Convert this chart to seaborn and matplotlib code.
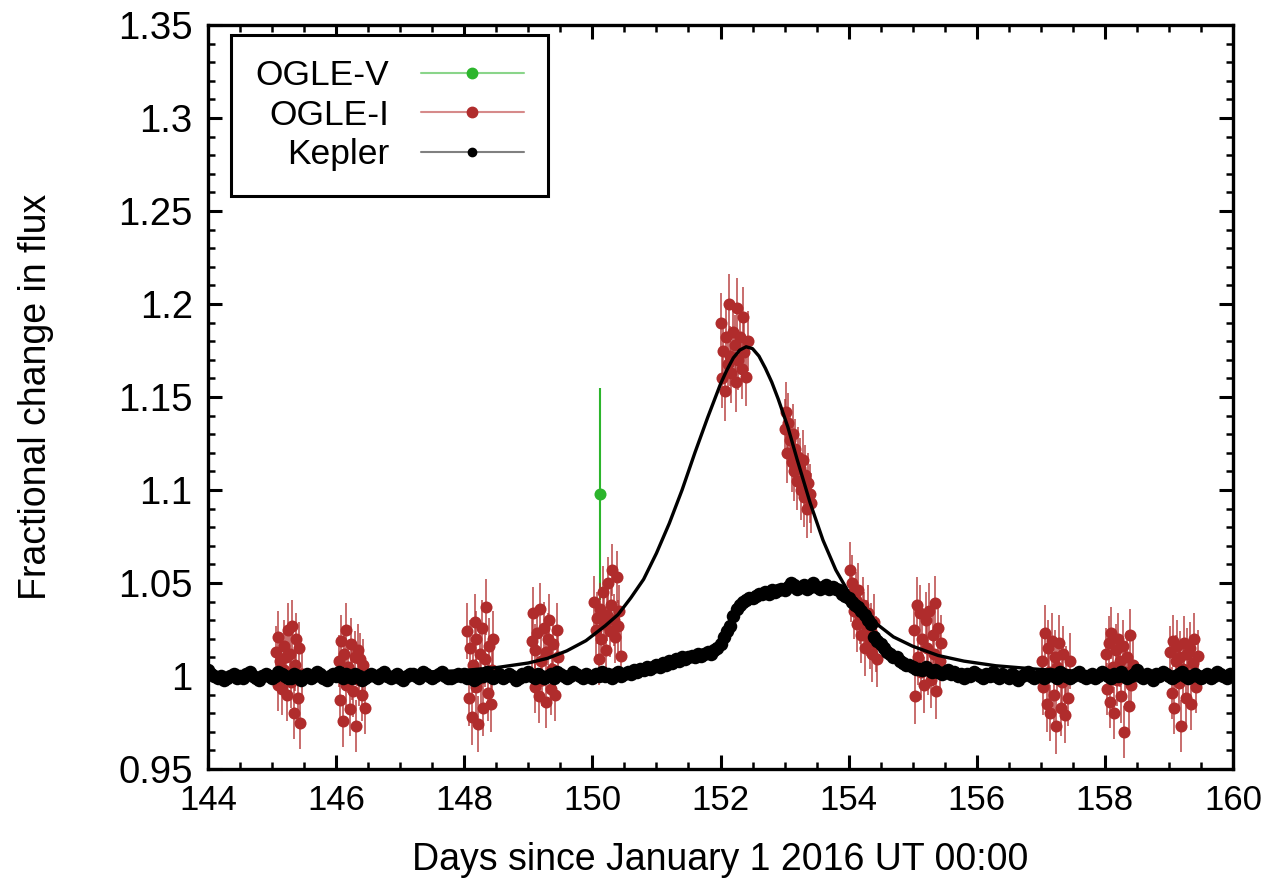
import numpy as np
import pandas as pd
import matplotlib
matplotlib.use("Agg")
import matplotlib.pyplot as plt
from matplotlib.ticker import MultipleLocator, FuncFormatter
from matplotlib.lines import Line2D
import seaborn as sns

# ---------------- data ----------------
# Kepler: regular long-cadence samples (every 0.05 d from 144.0), flux deviation in parts per thousand
kepler_start = 144.0
kepler_step = 0.05
kepler_dev_ppt = [
    3, 1, 0, -1, 0, -2, -1, 0, 1, -1,
    0, -1, 1, 2, 0, -1, -2, 0, 1, 0,
    -1, 0, 2, 1, 0, -1, -1, 1, 0, -2,
    0, 1, -1, 0, 2, 1, -1, -2, 0, 1,
    0, 2, -1, 1, 0, -1, 1, 0, -2, -1,
    0, 1, 0, -1, 1, 2, 0, -1, 0, 1,
    -1, -2, 0, 1, 1, 0, -1, 2, 1, 0,
    -1, 0, 1, 2, 0, -1, -1, 0, 1, 0,
    1, -1, 0, -2, -1, 1, 0, 2, 0, -1,
    0, 1, -1, 0, 1, 0, -2, -1, 1, 0,
    2, 0, -1, 1, 0, -1, 0, 1, -1, 2,
    1, 0, -1, 0, 2, 1, 0, -1, 1, 0,
    -1, 1, 0, 2, 0, 1, -1, 1, 2, 0,
    1, 2, 1, 3, 2, 4, 3, 5, 4, 5,
    6, 5, 7, 6, 8, 7, 9, 8, 10, 9,
    10, 11, 10, 12, 11, 12, 13, 12,
    14, 15, 17, 21, 24, 27, 32, 36, 38, 40, 41, 42,
    42, 43, 44, 44, 45, 44, 46, 45, 46, 47, 46, 48, 50,
    49, 47, 48, 49, 47, 48, 50, 48, 47, 48, 49, 47, 48, 47,
    46, 44, 43, 42, 40, 38, 37, 35, 33, 30, 28,
    21, 19, 17, 15, 13, 12, 10, 10, 8, 7, 6, 6, 5, 4, 4, 3, 5, 3, 2, 3,
    2, 1, 2, 3, 1, 2, 0, 1, -1, 1, 0, 2, 1,
    0, -1, 1, 0, 2, 0, -1, 1, 0, -1,
    1, 0, -2, 0, 1, 2, 0, -1, 0, 1,
    -1, 0, 1, 0, -1, 2, 1, 0, -1, 0,
    1, 2, 0, -1, 0, 1, -1, 0, 2, 1,
    0, -1, 1, 0, 2, 0, -1, 0, 1, 3,
    0, -1, 1, 0, -2, 1, 0, 2, 1, 0,
    -1, 0, 1, 2, 0, -1, 0, 1, 0, -1,
    0, 1, -1, 0, 2, 1, 0, -1, 1, 0,
]

# OGLE-I photometry (12 nightly clusters of 20 points)
ogle_i_t = [
    145.06, 145.09, 145.10, 145.13, 145.15, 145.18, 145.19, 145.22, 145.24, 145.25, 145.28, 145.30, 145.31, 145.34, 145.36, 145.37, 145.40, 145.42, 145.43, 145.46,
    146.04, 146.06, 146.08, 146.10, 146.13, 146.15, 146.16, 146.19, 146.21, 146.23, 146.25, 146.27, 146.30, 146.31, 146.34, 146.36, 146.38, 146.40, 146.42, 146.45,
    148.05, 148.07, 148.09, 148.12, 148.13, 148.16, 148.18, 148.19, 148.22, 148.24, 148.26, 148.28, 148.30, 148.33, 148.34, 148.37, 148.39, 148.41, 148.43, 148.45,
    149.05, 149.07, 149.10, 149.11, 149.14, 149.16, 149.18, 149.20, 149.22, 149.25, 149.27, 149.28, 149.31, 149.33, 149.35, 149.37, 149.39, 149.42, 149.44, 149.46,
    150.03, 150.05, 150.07, 150.10, 150.12, 150.14, 150.16, 150.18, 150.21, 150.23, 150.25, 150.27, 150.29, 150.31, 150.34, 150.36, 150.38, 150.40, 150.42, 150.45,
    152.00, 152.02, 152.04, 152.07, 152.09, 152.11, 152.13, 152.15, 152.17, 152.20, 152.22, 152.24, 152.26, 152.28, 152.31, 152.33, 152.35, 152.37, 152.40, 152.43,
    153.00, 153.02, 153.04, 153.06, 153.08, 153.11, 153.13, 153.15, 153.17, 153.19, 153.21, 153.24, 153.26, 153.28, 153.30, 153.32, 153.35, 153.37, 153.39, 153.42,
    154.02, 154.04, 154.06, 154.08, 154.11, 154.13, 154.15, 154.17, 154.19, 154.22, 154.24, 154.26, 154.28, 154.30, 154.33, 154.35, 154.37, 154.39, 154.42, 154.45,
    155.02, 155.04, 155.06, 155.09, 155.11, 155.13, 155.15, 155.17, 155.20, 155.22, 155.24, 155.26, 155.28, 155.31, 155.33, 155.35, 155.37, 155.40, 155.42, 155.44,
    157.02, 157.04, 157.06, 157.09, 157.11, 157.13, 157.15, 157.18, 157.20, 157.22, 157.24, 157.26, 157.29, 157.31, 157.33, 157.35, 157.38, 157.40, 157.42, 157.45,
    158.01, 158.03, 158.06, 158.08, 158.10, 158.12, 158.14, 158.17, 158.19, 158.21, 158.23, 158.25, 158.28, 158.30, 158.32, 158.34, 158.37, 158.39, 158.41, 158.44,
    159.02, 159.04, 159.06, 159.08, 159.11, 159.13, 159.15, 159.17, 159.19, 159.22, 159.24, 159.26, 159.28, 159.30, 159.33, 159.35, 159.37, 159.39, 159.42, 159.45,
]
ogle_i_f = [
    1.013, 0.995, 1.021, 1.008, 0.993, 1.016, 1.003, 1.010, 0.990, 1.025, 1.012, 0.997, 1.027, 0.980, 1.006, 1.020, 0.988, 1.015, 0.975, 1.001,
    1.008, 0.987, 1.019, 0.976, 1.012, 1.025, 0.995, 1.005, 0.982, 1.017, 1.001, 0.992, 1.010, 0.973, 1.014, 0.998, 1.009, 0.990, 1.006, 0.983,
    1.024, 0.988, 1.015, 0.978, 1.006, 1.029, 0.994, 1.020, 0.974, 1.012, 0.999, 1.026, 0.983, 1.009, 1.037, 0.991, 1.016, 0.985, 1.003, 1.020,
    1.019, 1.034, 0.994, 1.014, 1.023, 0.989, 1.036, 1.008, 0.998, 1.026, 1.013, 0.986, 1.020, 1.030, 0.993, 1.004, 1.017, 0.990, 1.025, 1.010,
    1.040, 1.025, 1.031, 1.009, 1.036, 1.020, 1.045, 1.028, 1.014, 1.033, 1.050, 1.024, 1.038, 1.057, 1.030, 1.021, 1.053, 1.027, 1.035, 1.011,
    1.190, 1.160, 1.175, 1.153, 1.182, 1.168, 1.200, 1.172, 1.163, 1.185, 1.178, 1.158, 1.198, 1.170, 1.182, 1.165, 1.193, 1.174, 1.161, 1.180,
    1.133, 1.142, 1.120, 1.136, 1.127, 1.115, 1.130, 1.110, 1.122, 1.105, 1.118, 1.112, 1.100, 1.116, 1.096, 1.108, 1.090, 1.104, 1.098, 1.093,
    1.057, 1.044, 1.050, 1.035, 1.041, 1.028, 1.046, 1.032, 1.022, 1.038, 1.030, 1.015, 1.026, 1.034, 1.019, 1.024, 1.012, 1.029, 1.017, 1.009,
    1.025, 0.989, 1.038, 1.010, 1.034, 1.002, 1.020, 0.995, 1.030, 1.015, 1.005, 1.035, 0.998, 1.022, 1.012, 1.039, 0.992, 1.026, 1.008, 1.018,
    1.008, 0.994, 1.023, 0.985, 1.015, 1.002, 0.980, 1.019, 0.990, 1.010, 0.973, 1.005, 1.018, 0.983, 0.997, 1.012, 0.979, 1.001, 0.988, 1.008,
    1.012, 0.993, 1.018, 0.986, 1.023, 1.005, 0.980, 1.014, 0.998, 1.020, 1.008, 0.989, 1.016, 0.970, 1.002, 1.010, 0.984, 1.022, 0.995, 1.006,
    1.013, 0.991, 1.019, 0.983, 1.008, 1.016, 0.996, 1.010, 0.973, 1.004, 1.018, 0.988, 1.012, 0.999, 1.015, 0.985, 1.007, 1.020, 0.994, 1.011,
]
ogle_i_cluster_err = [0.014, 0.014, 0.015, 0.014, 0.014, 0.016, 0.016, 0.015, 0.015, 0.015, 0.014, 0.014]

# OGLE-V single point
ogle_v_t = [150.12]
ogle_v_f = [1.098]
ogle_v_err = [0.057]

# Microlensing model curve
model_t = [144.0, 145.0, 146.0, 147.0, 147.5, 148.0, 148.5, 149.0, 149.3, 149.6, 149.9,
           150.2, 150.4, 150.6, 150.8, 151.0, 151.2, 151.4, 151.6, 151.8, 151.9, 152.0,
           152.1, 152.2, 152.3, 152.4, 152.5, 152.6, 152.7, 152.8, 152.9, 153.05, 153.2,
           153.4, 153.6, 153.8, 154.0, 154.2, 154.4, 154.7, 155.0, 155.4, 155.8, 156.3,
           157.0, 158.0, 159.0, 160.0]
model_f = [1.0005, 1.0007, 1.0010, 1.0016, 1.0022, 1.0030, 1.0045, 1.0070, 1.0095, 1.0135, 1.0190,
           1.0270, 1.0330, 1.0420, 1.0520, 1.0660, 1.0820, 1.1000, 1.1200, 1.1390, 1.1480, 1.1570,
           1.1645, 1.1710, 1.1752, 1.1770, 1.1760, 1.1720, 1.1655, 1.1580, 1.1490, 1.1340, 1.1160,
           1.0930, 1.0730, 1.0570, 1.0450, 1.0360, 1.0290, 1.0210, 1.0160, 1.0110, 1.0080, 1.0055,
           1.0035, 1.0020, 1.0013, 1.0010]

x_ticks = [144, 146, 148, 150, 152, 154, 156, 158, 160]

# ---------------- frames ----------------
kep = pd.DataFrame({"t": kepler_start + kepler_step * np.arange(len(kepler_dev_ppt)),
                    "f": 1.0 + np.array(kepler_dev_ppt) / 1000.0})
ogi = pd.DataFrame({"t": ogle_i_t, "f": ogle_i_f,
                    "e": np.repeat(ogle_i_cluster_err, len(ogle_i_t) // len(ogle_i_cluster_err))})
ogv = pd.DataFrame({"t": ogle_v_t, "f": ogle_v_f, "e": ogle_v_err})
mod = pd.DataFrame({"t": model_t, "f": model_f})

# ---------------- style ----------------
sns.set_theme(style="ticks")
plt.rcParams['font.family'] = ['Liberation Sans', 'DejaVu Sans']
plt.rcParams['text.color'] = 'black'
plt.rcParams['axes.labelcolor'] = 'black'
plt.rcParams['xtick.color'] = 'black'
plt.rcParams['ytick.color'] = 'black'
RED = '#b02c2c'
GREEN = '#2cb52c'

fig = plt.figure(figsize=(12.75, 8.85), dpi=100)
ax = fig.add_axes([208 / 1275, 1 - 769 / 885, 1025 / 1275, 744 / 885])

# OGLE-V
ax.errorbar(ogv["t"], ogv["f"], yerr=ogv["e"], fmt='none', ecolor=GREEN, elinewidth=1.5, capsize=0, zorder=2)
sns.scatterplot(data=ogv, x="t", y="f", color=GREEN, s=75, linewidth=0, ax=ax, zorder=2, legend=False)

# OGLE-I
ax.errorbar(ogi["t"], ogi["f"], yerr=ogi["e"], fmt='none', ecolor=RED, alpha=0.75, elinewidth=1.3, capsize=0, zorder=3)
sns.scatterplot(data=ogi, x="t", y="f", color=RED, s=75, linewidth=0, ax=ax, zorder=3, legend=False)

# Kepler
sns.scatterplot(data=kep, x="t", y="f", color='black', s=95, linewidth=0, ax=ax, zorder=4, legend=False)

# model
sns.lineplot(data=mod, x="t", y="f", color='black', linewidth=2.4, ax=ax, zorder=5,
             estimator=None, sort=False, legend=False)

ax.set_xlim(144, 160)
ax.set_ylim(0.95, 1.35)
ax.set_xticks(x_ticks)
ax.xaxis.set_minor_locator(MultipleLocator(0.5))
ax.yaxis.set_major_locator(MultipleLocator(0.05))
ax.yaxis.set_minor_locator(MultipleLocator(0.01))
ax.yaxis.set_major_formatter(FuncFormatter(lambda v, p: f"{v:g}"))
ax.xaxis.set_major_formatter(FuncFormatter(lambda v, p: f"{v:g}"))

ax.tick_params(which='both', direction='in', top=True, right=True, colors='black')
ax.tick_params(which='major', length=10, width=2.2)
ax.tick_params(which='minor', length=5, width=1.8)
ax.tick_params(axis='x', which='major', labelsize=25, pad=11)
ax.tick_params(axis='y', which='major', labelsize=27.5, pad=11)
for s in ax.spines.values():
    s.set_linewidth(2.4)
    s.set_color('black')

ax.set_xlabel("Days since January 1 2016 UT 00:00", fontsize=27, labelpad=18)
ax.set_ylabel("Fractional change in flux", fontsize=27, labelpad=46)

handles = [
    Line2D([], [], color='#8ad58a', lw=1.5, marker='o', markersize=7.5, mfc=GREEN, mec=GREEN),
    Line2D([], [], color='#d68a8a', lw=1.5, marker='o', markersize=7.5, mfc=RED, mec=RED),
    Line2D([], [], color='#808080', lw=1.5, marker='o', markersize=6, mfc='black', mec='black'),
]
leg = ax.legend(handles, ["OGLE-V", "OGLE-I", "Kepler"], loc='upper left',
                bbox_to_anchor=(0.022, 0.987), borderaxespad=0, fontsize=25.5,
                markerfirst=False, numpoints=1, handlelength=2.9, handletextpad=0.9,
                labelspacing=0.18, borderpad=0.7, fancybox=False, framealpha=1,
                edgecolor='black')
leg.get_frame().set_linewidth(2.2)

fig.savefig("out.png", dpi=100)
